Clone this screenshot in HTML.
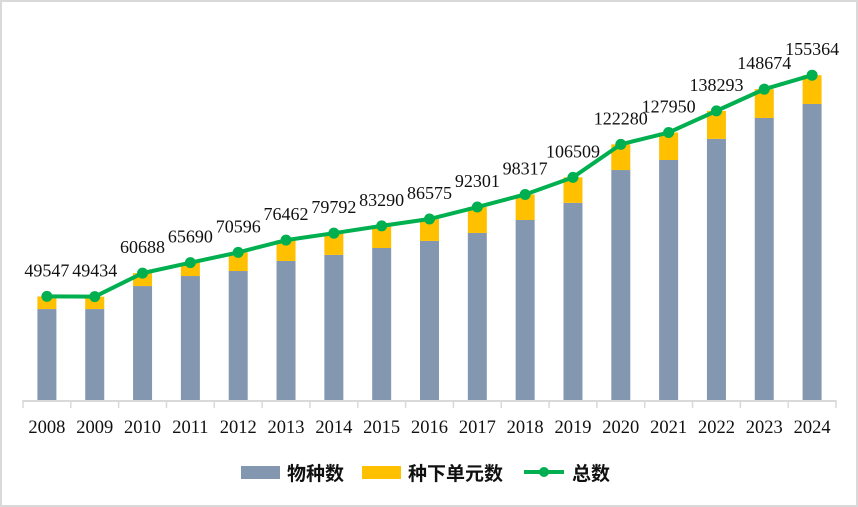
<!DOCTYPE html>
<html><head><meta charset="utf-8"><style>
body{margin:0;background:#fff}
svg{display:block}
</style></head><body>
<svg id="chart" width="858" height="507" xmlns="http://www.w3.org/2000/svg">
<rect x="1" y="1" width="856" height="505" fill="#fff" stroke="#d9d9d9" stroke-width="2"/>
<g id="bars"></g><g id="axis"></g><g id="line"></g><g id="labels"></g>
<g font-family="'Liberation Sans','Noto Sans CJK SC',sans-serif" font-size="19" font-weight="bold" fill="#111">
 <rect x="241" y="466" width="39" height="13" fill="#8497b0"/>
 <text x="287" y="480">物种数</text>
 <rect x="362" y="466" width="39" height="13" fill="#ffc000"/>
 <text x="408" y="480">种下单元数</text>
 <line x1="524" y1="472" x2="564" y2="472" stroke="#00b050" stroke-width="4"/>
 <circle cx="544" cy="472" r="5" fill="#00b050"/>
 <text x="572" y="480">总数</text>
</g>
</svg>
<script>
const years=["2008","2009","2010","2011","2012","2013","2014","2015","2016","2017","2018","2019","2020","2021","2022","2023","2024"];
const totals=[49547,49434,60688,65690,70596,76462,79792,83290,86575,92301,98317,106509,122280,127950,138293,148674,155364];
const species=[43500,43500,54500,59300,61700,66500,69400,72700,76100,79900,86100,94300,110000,114800,124900,134900,141600];
const NS="http://www.w3.org/2000/svg";
const x0=23,x1=836,base=400,maxV=160000,plotH=334.5;
const step=(x1-x0)/years.length;
function xc(i){return x0+step*(i+0.5);}
function yv(v){return base-v/maxV*plotH;}
function mk(t,a,p){const e=document.createElementNS(NS,t);for(const k in a)e.setAttribute(k,a[k]);p.appendChild(e);return e;}
const gB=document.getElementById('bars'),gA=document.getElementById('axis'),gL=document.getElementById('line'),gT=document.getElementById('labels');
const bw=19;
years.forEach((y,i)=>{
 const s=mk('rect',{x:xc(i)-bw/2,y:yv(species[i]),width:bw,height:base-yv(species[i]),fill:'#8497b0'},gB);
 
 
 const u=mk('rect',{x:xc(i)-bw/2,y:yv(totals[i]),width:bw,height:yv(species[i])-yv(totals[i]),fill:'#ffc000'},gB);
 
 
 const t=mk('text',{x:xc(i),y:433,'text-anchor':'middle','font-family':"'Liberation Serif',serif",'font-size':'18.5',fill:'#111'},gA);
 t.textContent=y;
 
 
});
const ax=mk('line',{x1:x0,y1:base+1,x2:x1,y2:base+1,stroke:'#d9d9d9','stroke-width':2},gA);


for(let i=0;i<=years.length;i++){
 const tk=mk('line',{x1:x0+step*i,y1:base,x2:x0+step*i,y2:base+8,stroke:'#d9d9d9','stroke-width':1.5},gA);
 
 
}
const pl=mk('polyline',{points:totals.map((v,i)=>xc(i)+','+yv(v)).join(' '),fill:'none',stroke:'#00b050','stroke-width':4,'stroke-linejoin':'round'},gL);


totals.forEach((v,i)=>{
 const c=mk('circle',{cx:xc(i),cy:yv(v),r:5.5,fill:'#00b050'},gL);
 
 
 const t=mk('text',{x:xc(i),y:yv(v)-20,'text-anchor':'middle','font-family':"'Liberation Serif',serif",'font-size':'18',fill:'#111'},gT);
 t.textContent=v;
 
 
});
</script>
</body></html>
